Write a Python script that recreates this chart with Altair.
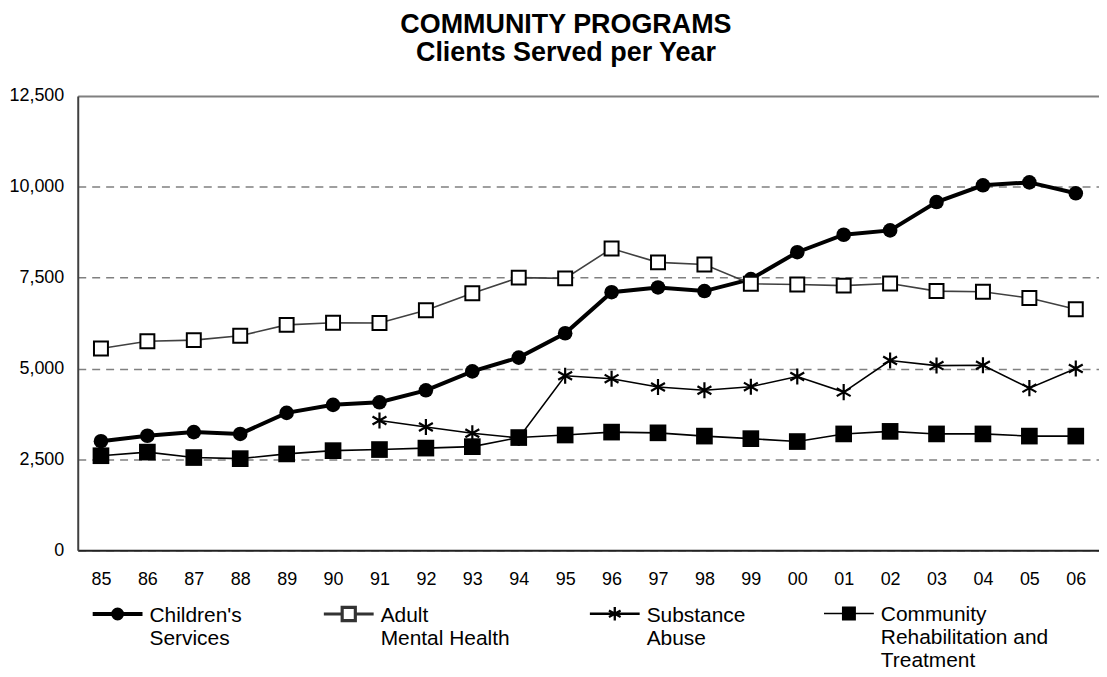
import json
import altair as alt
import pandas as pd

YEARS = ["85", "86", "87", "88", "89", "90", "91", "92", "93", "94", "95",
         "96", "97", "98", "99", "00", "01", "02", "03", "04", "05", "06"]

SERIES = ["Children's Services", "Adult Mental Health", "Substance Abuse",
          "Community Rehabilitation and Treatment"]

CHILDREN = [3000, 3150, 3250, 3200, 3780, 4000, 4070, 4400, 4920, 5300, 5970,
            7100, 7230, 7130, 7460, 8200, 8680, 8800, 9580, 10040, 10120, 9820]
ADULT = [5550, 5750, 5780, 5900, 6200, 6260, 6250, 6600, 7070, 7500, 7480,
         8300, 7920, 7860, 7330, 7310, 7280, 7340, 7130, 7110, 6940, 6630]
SUBSTANCE = [None, None, None, None, None, None, 3570, 3390, 3220, 3090, 4800,
             4720, 4490, 4400, 4500, 4780, 4350, 5220, 5080, 5090, 4460, 5000]
COMMUNITY = [2600, 2700, 2550, 2520, 2650, 2740, 2770, 2810, 2850, 3100, 3170,
             3250, 3230, 3140, 3070, 2990, 3200, 3270, 3200, 3200, 3140, 3140]

LEGEND_LINES = {
    "Children's Services": ["Children's", "Services", ""],
    "Adult Mental Health": ["Adult", "Mental Health", ""],
    "Substance Abuse": ["Substance", "Abuse", ""],
    "Community Rehabilitation and Treatment": ["Community", "Rehabilitation and", "Treatment"],
}

Y_TICKS = [0, 2500, 5000, 7500, 10000, 12500]

rows = []
for name, vals in zip(SERIES, [CHILDREN, ADULT, SUBSTANCE, COMMUNITY]):
    for yr, v in zip(YEARS, vals):
        if v is not None:
            rows.append({"year": yr, "value": v, "series": name})
df = pd.DataFrame(rows)

FONT = "Liberation Sans"
ASTERISK = "M0,-1V1M-0.866,-0.5L0.866,0.5M-0.866,0.5L0.866,-0.5"

# legend glyphs (line + marker), drawn slightly below the entry centre so that
# they line up with the first line of the label
c = 0.36
LEG_SHAPES = [
    f"M-1,{c}H1M0.18,{c}A0.18,0.18,0,1,1,-0.18,{c}A0.18,0.18,0,1,1,0.18,{c}Z",
    f"M-1,{c}H-0.264M0.264,{c}H1M-0.264,{c - 0.264}H0.264V{c + 0.264}H-0.264Z",
    f"M-1,{c}H1M0,{c - 0.27}V{c + 0.27}M-0.234,{c - 0.135}L0.234,{c + 0.135}M-0.234,{c + 0.135}L0.234,{c - 0.135}",
    f"M-1,{c}H1M-0.25,{c - 0.25}H0.25V{c + 0.25}H-0.25Z",
]

x_enc = alt.X(
    "year:O",
    sort=YEARS,
    scale=alt.Scale(type="point", domain=YEARS, padding=0.5),
    axis=alt.Axis(
        title=None, labelAngle=0, labelFont=FONT, labelFontSize=18,
        labelColor="black", ticks=False, tickSize=0, labelPadding=20,
        domainColor="#222222", domainWidth=2, grid=False,
    ),
)
y_enc = alt.Y(
    "value:Q",
    scale=alt.Scale(domain=[0, 12500], nice=False),
    axis=alt.Axis(
        title=None, values=Y_TICKS, format=",.0f", labelFont=FONT, labelFontSize=18,
        labelColor="black", ticks=False, tickSize=0, labelPadding=14,
        domainColor="#404040", domainWidth=2,
        grid=True, gridColor="#808080",
        gridDash={"condition": {"test": "datum.value === 12500", "value": [10, 0]}, "value": [8, 6]},
        gridWidth={"condition": {"test": "datum.value === 12500", "value": 2}, "value": 1.5},
    ),
)

base = alt.Chart(df).encode(x=x_enc, y=y_enc)


def sel(name):
    return base.transform_filter(alt.datum.series == name)


layers = []
# Children's Services
layers.append(sel(SERIES[0]).mark_line(color="black", strokeWidth=4))
layers.append(sel(SERIES[0]).mark_circle(color="black", size=214, opacity=1))
# Adult Mental Health
layers.append(sel(SERIES[1]).mark_line(color="#404040", strokeWidth=1.6))
layers.append(sel(SERIES[1]).mark_square(fill="white", stroke="black", strokeWidth=2, size=196, opacity=1))
# Substance Abuse
layers.append(sel(SERIES[2]).mark_line(color="black", strokeWidth=1.6))
layers.append(sel(SERIES[2]).mark_point(shape=ASTERISK, stroke="black", strokeWidth=2.2, size=260, opacity=1))
# Community Rehabilitation and Treatment
layers.append(sel(SERIES[3]).mark_line(color="black", strokeWidth=1.6))
layers.append(sel(SERIES[3]).mark_square(color="black", size=280, opacity=1))

label_expr = "(" + json.dumps(LEGEND_LINES) + ")[datum.label]"
leg = alt.Legend(
    title=None, orient="none", direction="horizontal", columns=4,
    legendX=13, legendY=484, symbolSize=2500, labelFont=FONT, labelFontSize=21,
    labelColor="black", labelOffset=5, labelLimit=400, columnPadding=75,
    labelExpr=label_expr, labelBaseline="top", symbolOpacity=1,
)

legend_layer = base.transform_filter("false").mark_point(filled=True, opacity=1).encode(
    shape=alt.Shape("series:N", scale=alt.Scale(domain=SERIES, range=LEG_SHAPES), legend=leg),
    fill=alt.Fill("series:N", scale=alt.Scale(domain=SERIES, range=["black", "white", "black", "black"]), legend=leg),
    stroke=alt.Stroke("series:N", scale=alt.Scale(domain=SERIES, range=["black", "#333333", "black", "black"]), legend=leg),
    strokeWidth=alt.StrokeWidth("series:N", scale=alt.Scale(domain=SERIES, range=[4, 1.5, 1.8, 1.5]), legend=leg),
)
layers.append(legend_layer)

chart = alt.layer(*layers).properties(
    width=1025,
    height=456,
    padding={"left": 0, "top": 2, "right": 0, "bottom": 0},
    title=alt.Title(
        text=["COMMUNITY PROGRAMS", "Clients Served per Year"],
        font=FONT, fontSize=27, fontWeight="bold", color="black",
        anchor="middle", frame="bounds", lineHeight=28, dx=12, offset=20,
    ),
).configure_view(stroke=None).configure(
    background="white",
)

chart.save("out.html", embed_options={"renderer": "svg", "actions": False})
